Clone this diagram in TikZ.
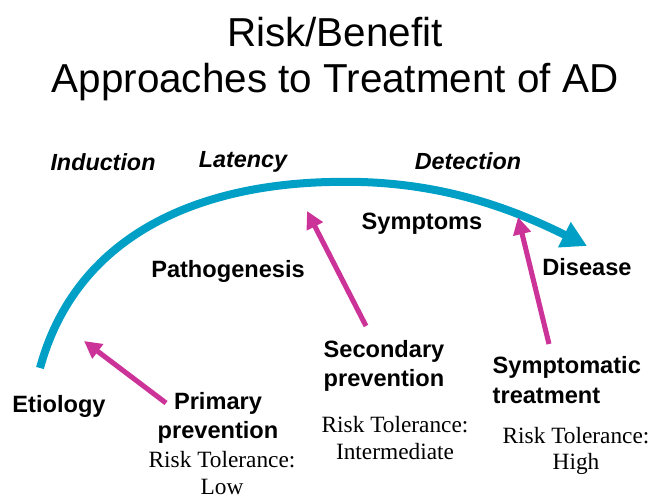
\documentclass[tikz,border=0pt]{standalone}
\usepackage{fontspec}
\setmainfont{Liberation Sans}
\newfontfamily\serifface{Liberation Serif}
\usetikzlibrary{arrows.meta}
\definecolor{curveblue}{RGB}{0,160,198}
\definecolor{arrowpink}{RGB}{204,51,153}
\begin{document}
\begin{tikzpicture}[x=0.75pt,y=-0.75pt,
  titletext/.style={font=\fontsize{30.3pt}{35pt}\selectfont,align=center},
  phase/.style={font=\fontsize{17.5pt}{21pt}\selectfont\bfseries\itshape},
  stage/.style={font=\fontsize{17.7pt}{21pt}\selectfont\bfseries},
  approach/.style={font=\fontsize{17.7pt}{22pt}\selectfont\bfseries,align=center},
  tolerance/.style={font=\serifface\fontsize{17.5pt}{20pt}\selectfont,align=center},
  course/.style={draw=curveblue,line width=6pt,-{Triangle[length=19pt,width=20pt]}},
  treat/.style={draw=arrowpink,line width=3.8pt,-{Triangle[length=13pt,width=13pt]}}]
\useasboundingbox (0,0) rectangle (654,498);

% title
\node[titletext] (title) at (335,59) {Risk/Benefit\\Approaches to Treatment of AD};

% phases of the disease course
\node[phase] (induction) at (103,162) {Induction};
\node[phase] (latency) at (243,162) {Latency};
\node[phase] (detection) at (468,161) {Detection};

% stages along the course
\node[stage] (etiology) at (59,406) {Etiology};
\node[stage] (pathogenesis) at (228,271) {Pathogenesis};
\node[stage] (symptoms) at (422,224) {Symptoms};
\node[stage] (disease) at (587,267) {Disease};

% disease course
\coordinate (cstart) at (40,368);
\coordinate (ctop) at (330,182);
\coordinate (cend) at (587,246);
\draw[course] (cstart) .. controls (76,236) and (196,185) .. (ctop)
  .. controls (430,179) and (505,205) .. (cend);

% approaches to treatment
\node[approach] (primary) at (218,418) {Primary\\prevention};
\node[tolerance] (lowtol) at (222,473) {Risk Tolerance:\\Low};
\node[approach] (secondary) at (384,366) {Secondary\\prevention};
\node[tolerance] (midtol) at (395,438) {Risk Tolerance:\\Intermediate};
\node[approach,align=left,anchor=west] (symptomatic) at (488,380) {Symptomatic\\treatment};
\node[tolerance] (hightol) at (576,451) {Risk Tolerance:\\High};

% where each approach intervenes
\coordinate (ptail) at (166,403);
\coordinate (ptip) at (84,341);
\coordinate (stail) at (366,326);
\coordinate (stip) at (307,211);
\coordinate (ttail) at (549,344);
\coordinate (ttip) at (518,217);
\draw[treat] (ptail) -- (ptip);
\draw[treat] (stail) -- (stip);
\draw[treat] (ttail) -- (ttip);
\end{tikzpicture}
\end{document}
